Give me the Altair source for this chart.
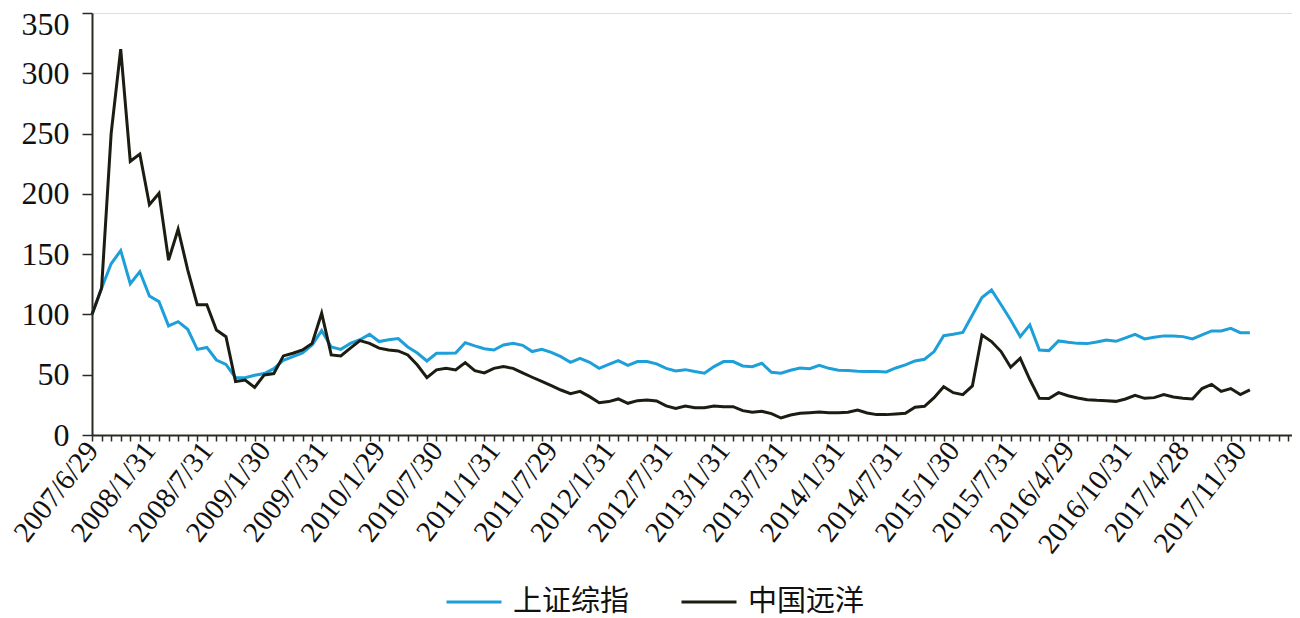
import json
import altair as alt
import pandas as pd

TICK_LABELS = ["2007/6/29", "2008/1/31", "2008/7/31", "2009/1/30", "2009/7/31",
               "2010/1/29", "2010/7/30", "2011/1/31", "2011/7/29", "2012/1/31",
               "2012/7/31", "2013/1/31", "2013/7/31", "2014/1/31", "2014/7/31",
               "2015/1/30", "2015/7/31", "2016/4/29", "2016/10/31", "2017/4/28",
               "2017/11/30"]
LABEL_STEP = 6

SH_INDEX = [100, 121.7, 142, 153, 125.5, 135.5, 115.3, 110.6, 90.5, 94,
            87.7, 71, 72.6, 62.2, 58.6, 47.5, 47.5, 49.5, 51, 55,
            62, 65, 68, 74.7, 86.6, 73, 71, 76, 79, 83.5,
            77.5, 79, 80, 73, 68, 61.4, 67.8, 67.8, 68, 76.6,
            73.9, 71.6, 70.5, 74.7, 76, 74.4, 69.2, 71, 68.6, 65,
            60.3, 63.6, 60.3, 55.3, 58.6, 61.7, 57.8, 60.9, 60.9, 59,
            55.3, 53.1, 54.2, 52.6, 51.2, 56.7, 60.9, 60.9, 57.3, 56.7,
            59.5, 52, 51.2, 53.7, 55.6, 55, 57.8, 55.3, 53.7, 53.4,
            52.8, 52.6, 52.6, 52.3, 55.6, 58.1, 61.4, 62.8, 69.2, 82.4,
            83.5, 85, 99.6, 114, 120.3, 108, 95.4, 81.6, 91.3, 70.5,
            70, 78, 76.9, 76, 75.8, 77.2, 78.8, 77.7, 80.5, 83.5,
            79.7, 81, 82.2, 82.2, 81.6, 79.7, 83, 86.3, 86.3, 88.5,
            84.9, 84.9]

COSCO = [100, 121.7, 250, 320, 227, 233, 191, 200.5, 145, 170.7,
         137, 108, 108, 87, 81.5, 44.3, 45.6, 39.5, 49.8, 51,
         65.6, 67.8, 70.5, 76, 101, 66.4, 65.6, 72, 78.3, 76,
         72, 70.5, 69.7, 66.4, 58, 47.6, 54, 55.3, 53.9, 60,
         53.4, 51.5, 55.3, 56.7, 55.3, 51.5, 47.9, 44.5, 40.9, 37.3,
         34.3, 36.2, 31.8, 26.8, 27.7, 29.9, 26.3, 28.5, 29, 28.2,
         24.1, 22.1, 24.1, 22.7, 22.7, 24.1, 23.5, 23.5, 20.2, 18.8,
         19.6, 17.7, 14.1, 16.6, 18, 18.5, 19.1, 18.5, 18.5, 18.8,
         20.7, 18.3, 16.9, 16.9, 17.4, 18, 23, 23.8, 31, 40.1,
         35.1, 33.5, 40.7, 83, 77.5, 69.2, 56.2, 63.6, 46, 30.4,
         30.2, 35.1, 32.6, 30.7, 29.3, 28.8, 28.5, 27.9, 29.9, 32.9,
         30.4, 31, 33.5, 31.5, 30.4, 29.9, 38.5, 42, 36.2, 38.5,
         33.5, 37.5]

SERIES = ["上证综指", "中国远洋"]
COLORS = ["#1d9fd9", "#1c1c12"]
Y_TICKS = [0, 50, 100, 150, 200, 250, 300, 350]

rows = []
for name, vals in zip(SERIES, [SH_INDEX, COSCO]):
    for i, v in enumerate(vals):
        rows.append({"i": i, "v": v, "s": name})
df = pd.DataFrame(rows)

last_label = LABEL_STEP * (len(TICK_LABELS) - 1)
label_expr = (f"(datum.value % {LABEL_STEP} == 0 && datum.value <= {last_label}) ? "
              f"{json.dumps(TICK_LABELS, ensure_ascii=False)}[datum.value / {LABEL_STEP}] : ''")

AXIS_COLOR = "#2a2a22"

x_enc = alt.X(
    "i:Q",
    scale=alt.Scale(domain=[0, 125.4], nice=False, zero=False),
    axis=alt.Axis(
        values=list(range(0, 126)),
        labelExpr=label_expr,
        labelAngle=-52,
        labelAlign="right",
        labelBaseline="middle",
        labelPadding=4,
        labelFont="Liberation Serif",
        labelFontSize=29,
        labelColor="#111111",
        labelOverlap=False,
        labelFlush=False,
        tickSize=6,
        tickWidth=1.5,
        tickColor=AXIS_COLOR,
        domainColor=AXIS_COLOR,
        domainWidth=2,
        grid=False,
        title=None,
    ),
)
y_enc = alt.Y(
    "v:Q",
    scale=alt.Scale(domain=[0, 350], nice=False),
    axis=alt.Axis(
        values=Y_TICKS,
        labelFont="Liberation Serif",
        labelFontSize=32,
        labelColor="#111111",
        labelPadding=13,
        labelOffset={"condition": {"test": "datum.value == 350", "value": 11}, "value": 0},
        tickSize=10,
        tickWidth=1.5,
        tickColor=AXIS_COLOR,
        domainColor=AXIS_COLOR,
        domainWidth=2,
        grid=False,
        title=None,
    ),
)
color_enc = alt.Color(
    "s:N",
    scale=alt.Scale(domain=SERIES, range=COLORS),
    legend=alt.Legend(
        title=None,
        orient="none",
        legendX=353,
        legendY=560,
        direction="horizontal",
        symbolType="stroke",
        symbolSize=3025,
        symbolStrokeWidth=3,
        labelFont="Noto Sans CJK SC",
        labelFontSize=29,
        labelColor="#111111",
        labelOffset=10,
        columnPadding=45,
        padding=0,
    ),
)

base = alt.Chart(df).mark_line(strokeWidth=3).encode(x=x_enc, y=y_enc, color=color_enc)
blue = base.transform_filter(alt.datum.s == SERIES[0])
black = base.transform_filter(alt.datum.s == SERIES[1])

chart = (
    alt.layer(blue, black)
    .properties(
        width=1200,
        height=422,
        autosize=alt.AutoSizeParams(type="none"),
        padding={"left": 84, "top": 5, "right": 0, "bottom": 183},
    )
    .configure_view(strokeWidth=0)
    .configure(background="white")
)

chart.save("out.html", embed_options={"renderer": "svg", "actions": False})
